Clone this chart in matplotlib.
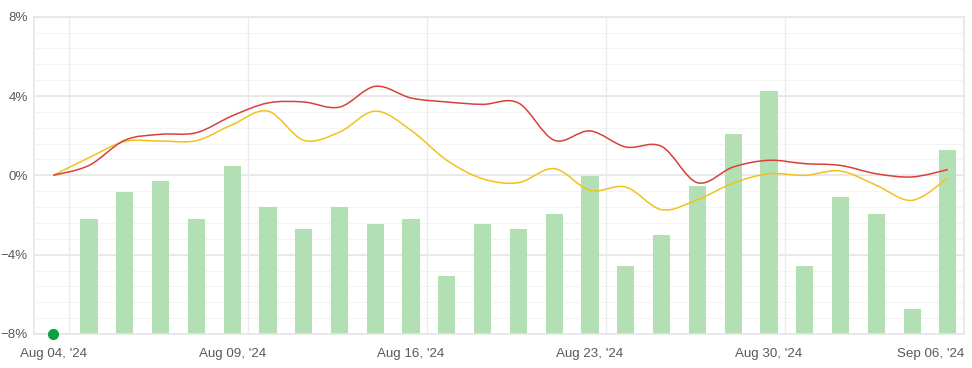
import matplotlib
matplotlib.use('Agg')
import matplotlib.pyplot as plt
import matplotlib.transforms as mtransforms
import numpy as np
from matplotlib.path import Path
from matplotlib.patches import PathPatch

# Valors llegits del gràfic (una categoria per dia hàbil)
red_line = [0.00, 0.50, 1.77, 2.07, 2.15, 3.00, 3.65, 3.70, 3.44, 4.49, 3.90, 3.70, 3.58,
            3.65, 1.77, 2.24, 1.43, 1.46, -0.37, 0.42, 0.76, 0.59, 0.50, 0.08, -0.08, 0.29]
yellow_line = [0.00, 0.89, 1.71, 1.73, 1.75, 2.55, 3.24, 1.77, 2.18, 3.24, 2.27, 0.76, -0.17,
               -0.37, 0.34, -0.76, -0.59, -1.73, -1.23, -0.39, 0.08, 0.00, 0.22, -0.50, -1.26, -0.13]
bar_tops = [-2.18, -0.86, -0.30, -2.18, 0.47, -1.61, -2.69, -1.61, -2.44, -2.18, -5.09, -2.44,
            -2.69, -1.93, -0.05, -4.59, -3.01, -0.55, 2.10, 4.25, -4.59, -1.11, -1.93, -6.74, 1.26]

tick_idx = [0, 5, 10, 15, 20, 25]
tick_labels = ["Aug 04, '24", "Aug 09, '24", "Aug 16, '24", "Aug 23, '24", "Aug 30, '24", "Sep 06, '24"]
y_ticks = [-8, -4, 0, 4, 8]
y_labels = ['\u22128%', '\u22124%', '0%', '4%', '8%']

y_min, y_max = -8, 8


def smooth_path(ys, k=1 / 6):
    # corba de Bézier (Catmull-Rom) a través dels punts
    pts = np.column_stack([np.arange(len(ys)), ys]).astype(float)
    verts = [pts[0]]
    codes = [Path.MOVETO]
    n = len(pts)
    for i in range(n - 1):
        p0 = pts[max(i - 1, 0)]
        p1 = pts[i]
        p2 = pts[i + 1]
        p3 = pts[min(i + 2, n - 1)]
        verts += [p1 + (p2 - p0) * k, p2 - (p3 - p1) * k, p2]
        codes += [Path.CURVE4] * 3
    return Path(verts, codes)


plt.rcParams['font.family'] = ['Liberation Sans', 'DejaVu Sans']

fig = plt.figure(figsize=(9.72, 3.68), dpi=100)
ax = fig.add_axes([33.5 / 972, 1 - 334 / 368, (964 - 33.5) / 972, (334 - 16.7) / 368])

# graella
for v in np.arange(y_min, y_max + 0.01, 0.8):
    ax.axhline(v, color='#f4f4f4', lw=0.8, zorder=0)
for v in y_ticks:
    ax.axhline(v, color='#e6e6e6', lw=1.2, zorder=0)
for i in tick_idx:
    ax.axvline(i + 0.45, color='#ebebeb', lw=1.0, zorder=0)

# barres
bar_x = np.arange(1, len(bar_tops) + 1)
ax.bar(bar_x, np.array(bar_tops) - y_min, bottom=y_min, width=0.48,
       color='#b3dfb5', zorder=1)

# línies suavitzades
ax.add_patch(PathPatch(smooth_path(yellow_line), fill=False, edgecolor='#f2c21b', lw=1.1, zorder=3))
ax.add_patch(PathPatch(smooth_path(red_line), fill=False, edgecolor='#d9403a', lw=1.1, zorder=4))

ax.plot([0], [y_min], 'o', color='#0aa043', markersize=7, zorder=5, clip_on=False)

ax.set_xlim(-0.55, 25.45)
ax.set_ylim(y_min, y_max)
ax.set_xticks(tick_idx)
ax.set_xticklabels(tick_labels)
ax.set_yticks(y_ticks)
ax.set_yticklabels(y_labels)
ax.tick_params(length=0, labelsize=9.6, labelcolor='#5a5a5a')
ax.tick_params(axis='x', pad=10)
ax.tick_params(axis='y', pad=4)
for s in ax.spines.values():
    s.set_color('#e6e6e6')
    s.set_linewidth(1.2)

# l'última etiqueta queda dins del marge dret
last = ax.get_xticklabels()[-1]
last.set_horizontalalignment('right')
last.set_transform(last.get_transform() +
                   mtransforms.ScaledTranslation(16 / 100, 0, fig.dpi_scale_trans))

fig.savefig('out.png', dpi=100)
